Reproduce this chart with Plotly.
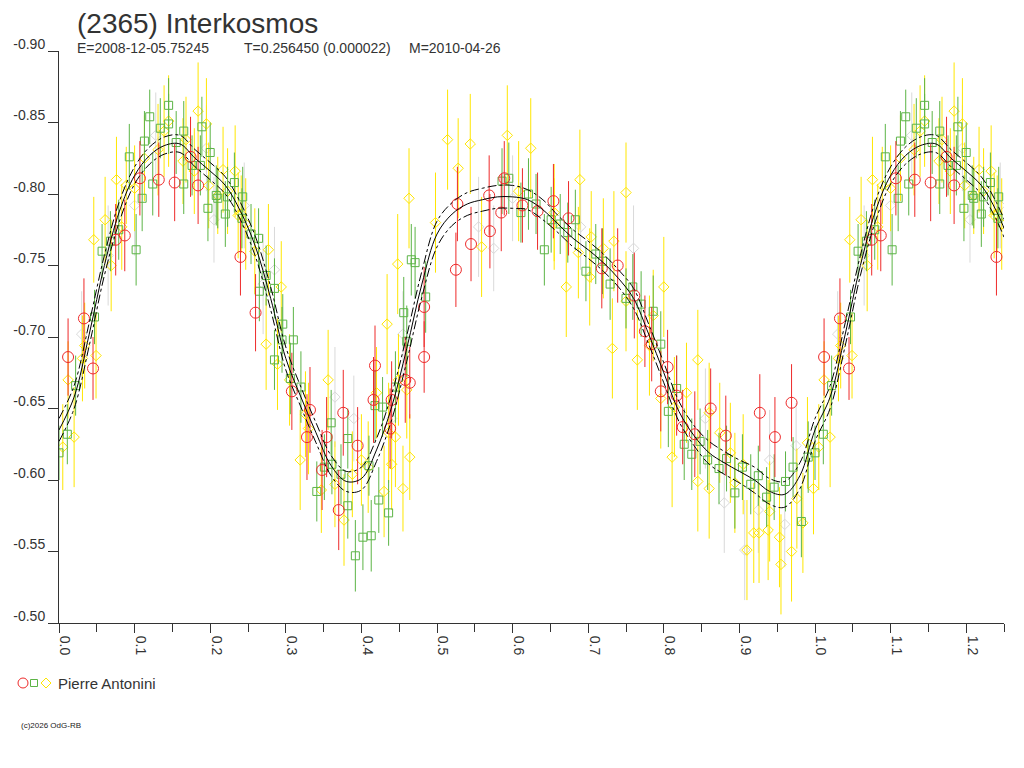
import plotly.graph_objects as go

# fitted curve, phase 0.00 .. 1.00 step 0.02, with its 1-sigma band
fit_phase = [i / 50 for i in range(51)]
fit_mag = [-0.635, -0.658, -0.702, -0.750, -0.788, -0.813, -0.827, -0.834, -0.835, -0.825,
           -0.816, -0.806, -0.788, -0.763, -0.727, -0.685, -0.658, -0.633, -0.610, -0.599,
           -0.601, -0.621, -0.651, -0.692, -0.737, -0.772, -0.786, -0.793, -0.796, -0.798,
           -0.798, -0.796, -0.789, -0.779, -0.769, -0.761, -0.752, -0.741, -0.727, -0.702,
           -0.675, -0.648, -0.631, -0.619, -0.612, -0.606, -0.600, -0.592, -0.590, -0.603,
           -0.635]
fit_sig = [0.008, 0.008, 0.008, 0.007, 0.007, 0.006, 0.006, 0.006, 0.006, 0.006,
           0.006, 0.006, 0.006, 0.007, 0.008, 0.008, 0.007, 0.007, 0.007, 0.007,
           0.008, 0.008, 0.009, 0.009, 0.009, 0.009, 0.008, 0.008, 0.008, 0.008,
           0.008, 0.007, 0.007, 0.006, 0.006, 0.006, 0.006, 0.006, 0.007, 0.007,
           0.007, 0.007, 0.007, 0.008, 0.008, 0.008, 0.009, 0.009, 0.009, 0.009,
           0.008]

# Pierre Antonini, session 1 (red circles)
red_phase = [0.012, 0.033, 0.045, 0.075, 0.087, 0.107, 0.132, 0.153, 0.174, 0.184,
             0.240, 0.260, 0.308, 0.332, 0.328, 0.354, 0.348, 0.376, 0.395, 0.370,
             0.418, 0.416, 0.440, 0.438, 0.458, 0.464, 0.483, 0.483, 0.525, 0.527,
             0.545, 0.570, 0.569, 0.585, 0.589, 0.613, 0.633, 0.654, 0.674, 0.718,
             0.739, 0.761, 0.775, 0.784, 0.805, 0.796, 0.817, 0.825, 0.841, 0.862,
             0.882, 0.927, 0.947, 0.969]
red_mag = [-0.686, -0.713, -0.678, -0.768, -0.771, -0.811, -0.810, -0.808, -0.826, -0.806,
           -0.756, -0.717, -0.662, -0.649, -0.630, -0.630, -0.607, -0.647, -0.624, -0.579,
           -0.680, -0.656, -0.656, -0.636, -0.670, -0.668, -0.686, -0.721, -0.747, -0.793,
           -0.765, -0.774, -0.799, -0.787, -0.811, -0.792, -0.788, -0.795, -0.783, -0.748,
           -0.750, -0.729, -0.704, -0.695, -0.679, -0.662, -0.659, -0.637, -0.632, -0.650,
           -0.631, -0.647, -0.630, -0.654]
red_err = [0.027, 0.028, 0.022, 0.025, 0.025, 0.026, 0.026, 0.027, 0.028, 0.027,
           0.027, 0.027, 0.027, 0.030, 0.030, 0.028, 0.028, 0.030, 0.027, 0.028,
           0.028, 0.030, 0.027, 0.028, 0.030, 0.025, 0.025, 0.028, 0.026, 0.026,
           0.026, 0.026, 0.028, 0.027, 0.026, 0.026, 0.027, 0.026, 0.026, 0.028,
           0.026, 0.030, 0.025, 0.026, 0.026, 0.028, 0.028, 0.026, 0.030, 0.028,
           0.028, 0.027, 0.028, 0.027]

# session 2 (green squares)
grn_phase = [0.000, 0.011, 0.022, 0.047, 0.057, 0.068, 0.079, 0.102, 0.093, 0.110,
             0.113, 0.120, 0.124, 0.134, 0.145, 0.145, 0.155, 0.165, 0.165, 0.176,
             0.187, 0.189, 0.197, 0.200, 0.208, 0.210, 0.220, 0.223, 0.232, 0.243,
             0.242, 0.254, 0.264, 0.274, 0.265, 0.285, 0.296, 0.295, 0.310, 0.285,
             0.306, 0.320, 0.360, 0.382, 0.351, 0.361, 0.373, 0.341, 0.382, 0.392,
             0.402, 0.413, 0.410, 0.423, 0.436, 0.418, 0.428, 0.445, 0.456, 0.460,
             0.466, 0.471, 0.485, 0.586, 0.595, 0.611, 0.621, 0.631, 0.642, 0.651,
             0.663, 0.673, 0.683, 0.697, 0.710, 0.719, 0.729, 0.750, 0.759, 0.770,
             0.786, 0.796, 0.817, 0.806, 0.827, 0.837, 0.848, 0.858, 0.873, 0.883,
             0.894, 0.904, 0.915, 0.925, 0.936, 0.946, 0.961, 0.971, 0.982, 0.991]
grn_mag = [-0.619, -0.632, -0.666, -0.714, -0.760, -0.767, -0.775, -0.761, -0.826, -0.797,
           -0.837, -0.854, -0.807, -0.846, -0.862, -0.849, -0.836, -0.844, -0.807, -0.820,
           -0.820, -0.847, -0.790, -0.829, -0.799, -0.797, -0.786, -0.798, -0.808, -0.798,
           -0.783, -0.772, -0.769, -0.743, -0.732, -0.734, -0.709, -0.698, -0.698, -0.684,
           -0.671, -0.665, -0.640, -0.629, -0.609, -0.611, -0.604, -0.592, -0.582, -0.547,
           -0.560, -0.561, -0.610, -0.586, -0.577, -0.652, -0.651, -0.665, -0.717, -0.697,
           -0.754, -0.752, -0.728, -0.809, -0.811, -0.787, -0.800, -0.793, -0.761, -0.782,
           -0.779, -0.773, -0.782, -0.746, -0.758, -0.753, -0.737, -0.727, -0.735, -0.723,
           -0.718, -0.695, -0.664, -0.648, -0.625, -0.618, -0.627, -0.614, -0.608, -0.615,
           -0.591, -0.609, -0.597, -0.603, -0.588, -0.595, -0.599, -0.609, -0.571, -0.616]
grn_err = [0.019, 0.021, 0.021, 0.019, 0.019, 0.021, 0.021, 0.025, 0.023, 0.023,
           0.021, 0.019, 0.022, 0.021, 0.019, 0.021, 0.022, 0.021, 0.021, 0.021,
           0.021, 0.021, 0.023, 0.021, 0.021, 0.021, 0.023, 0.021, 0.021, 0.021,
           0.021, 0.021, 0.021, 0.021, 0.021, 0.021, 0.021, 0.023, 0.023, 0.021,
           0.025, 0.025, 0.023, 0.021, 0.023, 0.021, 0.021, 0.021, 0.023, 0.025,
           0.023, 0.025, 0.021, 0.023, 0.023, 0.025, 0.021, 0.025, 0.025, 0.025,
           0.025, 0.025, 0.025, 0.023, 0.025, 0.021, 0.025, 0.021, 0.025, 0.023,
           0.021, 0.021, 0.021, 0.021, 0.021, 0.023, 0.025, 0.021, 0.023, 0.023,
           0.025, 0.023, 0.023, 0.025, 0.025, 0.025, 0.023, 0.021, 0.025, 0.023,
           0.025, 0.023, 0.021, 0.021, 0.021, 0.023, 0.021, 0.021, 0.025, 0.025]

# session 3 (yellow diamonds)
yel_phase = [0.005, 0.012, 0.020, 0.031, 0.034, 0.049, 0.046, 0.061, 0.069, 0.076,
             0.083, 0.089, 0.100, 0.113, 0.131, 0.139, 0.145, 0.164, 0.168, 0.179,
             0.184, 0.195, 0.198, 0.210, 0.217, 0.223, 0.233, 0.237, 0.241, 0.247,
             0.259, 0.277, 0.294, 0.274, 0.289, 0.305, 0.326, 0.330, 0.319, 0.356,
             0.347, 0.365, 0.377, 0.388, 0.400, 0.409, 0.420, 0.434, 0.430, 0.436,
             0.445, 0.440, 0.448, 0.449, 0.460, 0.464, 0.455, 0.463, 0.498, 0.514,
             0.528, 0.544, 0.559, 0.593, 0.624, 0.608, 0.655, 0.655, 0.689, 0.671,
             0.687, 0.704, 0.702, 0.720, 0.734, 0.750, 0.732, 0.750, 0.800, 0.765,
             0.781, 0.786, 0.796, 0.814, 0.830, 0.811, 0.845, 0.845, 0.860, 0.860,
             0.874, 0.888, 0.894, 0.905, 0.910, 0.919, 0.926, 0.938, 0.940, 0.953,
             0.955, 0.969, 0.976, 0.984, 0.990, 0.998]
yel_mag = [-0.623, -0.670, -0.630, -0.685, -0.694, -0.687, -0.768, -0.782, -0.750, -0.810,
           -0.777, -0.806, -0.804, -0.825, -0.831, -0.844, -0.851, -0.823, -0.838, -0.816,
           -0.858, -0.849, -0.806, -0.799, -0.817, -0.802, -0.816, -0.785, -0.786, -0.779,
           -0.760, -0.761, -0.735, -0.695, -0.681, -0.670, -0.646, -0.636, -0.614, -0.670,
           -0.593, -0.597, -0.572, -0.604, -0.614, -0.609, -0.661, -0.709, -0.592, -0.633,
           -0.630, -0.611, -0.751, -0.670, -0.663, -0.616, -0.594, -0.797, -0.780, -0.838,
           -0.818, -0.835, -0.763, -0.841, -0.832, -0.802, -0.787, -0.779, -0.810, -0.735,
           -0.759, -0.770, -0.742, -0.762, -0.767, -0.801, -0.692, -0.725, -0.735, -0.684,
           -0.694, -0.715, -0.657, -0.651, -0.661, -0.616, -0.684, -0.599, -0.647, -0.594,
           -0.633, -0.619, -0.598, -0.611, -0.551, -0.563, -0.563, -0.565, -0.578, -0.560,
           -0.541, -0.550, -0.587, -0.570, -0.626, -0.594]
yel_err = [0.030, 0.027, 0.035, 0.030, 0.030, 0.030, 0.030, 0.030, 0.032, 0.030,
           0.030, 0.027, 0.030, 0.030, 0.032, 0.032, 0.032, 0.030, 0.030, 0.030,
           0.034, 0.032, 0.030, 0.027, 0.030, 0.030, 0.032, 0.030, 0.027, 0.032,
           0.030, 0.032, 0.032, 0.032, 0.032, 0.032, 0.030, 0.032, 0.035, 0.035,
           0.030, 0.030, 0.032, 0.030, 0.032, 0.032, 0.032, 0.035, 0.032, 0.035,
           0.035, 0.032, 0.035, 0.032, 0.034, 0.030, 0.030, 0.035, 0.035, 0.035,
           0.035, 0.035, 0.035, 0.035, 0.035, 0.035, 0.034, 0.032, 0.035, 0.035,
           0.032, 0.032, 0.034, 0.035, 0.035, 0.035, 0.035, 0.035, 0.035, 0.035,
           0.035, 0.032, 0.035, 0.035, 0.035, 0.035, 0.035, 0.035, 0.035, 0.035,
           0.035, 0.035, 0.035, 0.035, 0.035, 0.035, 0.035, 0.035, 0.035, 0.035,
           0.035, 0.035, 0.035, 0.035, 0.032, 0.032]

# faint points (grey)
gry_phase = [0.030, 0.065, 0.100, 0.128, 0.195, 0.205, 0.245, 0.270, 0.285, 0.365,
             0.390, 0.440, 0.455, 0.555, 0.575, 0.600, 0.690, 0.760, 0.855, 0.880,
             0.907, 0.925, 0.940, 0.960, 0.975]
gry_mag = [-0.702, -0.757, -0.792, -0.841, -0.832, -0.782, -0.792, -0.737, -0.747, -0.658,
           -0.643, -0.643, -0.702, -0.777, -0.762, -0.797, -0.777, -0.762, -0.643, -0.584,
           -0.551, -0.579, -0.614, -0.569, -0.624]
gry_err = [0.030, 0.035, 0.035, 0.030, 0.030, 0.030, 0.030, 0.035, 0.030, 0.035,
           0.030, 0.035, 0.030, 0.035, 0.030, 0.030, 0.030, 0.030, 0.035, 0.035,
           0.035, 0.030, 0.035, 0.030, 0.030]

y_ticks = [-0.90, -0.85, -0.80, -0.75, -0.70, -0.65, -0.60, -0.55, -0.50]
y_labels = ["-0.90", "-0.85", "-0.80", "-0.75", "-0.70", "-0.65", "-0.60", "-0.55", "-0.50"]

RED = "#ee2a2a"
GREEN = "#5cb446"
YELLOW = "#ffe600"
GREY = "#d9d9d9"
TXT = "#333333"
FONT = "Liberation Sans, Arial, sans-serif"


def wrap(ph, mag, err, limit=0.25):
	# phases below `limit` are shown again after 1.0
	p2 = list(ph) + [p + 1 for p in ph if p < limit]
	m2 = list(mag) + [m for p, m in zip(ph, mag) if p < limit]
	e2 = list(err) + [e for p, e in zip(ph, err) if p < limit]
	return p2, m2, e2


def points(ph, mag, err, color, symbol, size):
	x, y, e = wrap(ph, mag, err)
	return go.Scatter(
		x=x, y=y, mode="markers", showlegend=False, cliponaxis=True,
		marker=dict(symbol=symbol, size=size, color=color, line=dict(color=color, width=1)),
		error_y=dict(type="data", array=e, color=color, thickness=1, width=0),
	)


fig = go.Figure()
fig.add_trace(points(gry_phase, gry_mag, gry_err, GREY, "diamond-open", 8))
fig.add_trace(points(yel_phase, yel_mag, yel_err, YELLOW, "diamond-open", 8))
fig.add_trace(points(grn_phase, grn_mag, grn_err, GREEN, "square-open", 8))
fig.add_trace(points(red_phase, red_mag, red_err, RED, "circle-open", 11))

# fitted curve and band, extended to 1.26
fx, fy, fs = wrap(fit_phase[:-1], fit_mag[:-1], fit_sig[:-1], limit=0.27)
order = sorted(range(len(fx)), key=lambda i: fx[i])
fx = [fx[i] for i in order]
fy = [fy[i] for i in order]
fs = [fs[i] for i in order]
fig.add_trace(go.Scatter(x=fx, y=[m - s for m, s in zip(fy, fs)], mode="lines", showlegend=False,
						 line=dict(color="black", width=1, dash="dashdot", shape="spline")))
fig.add_trace(go.Scatter(x=fx, y=[m + s for m, s in zip(fy, fs)], mode="lines", showlegend=False,
						 line=dict(color="black", width=1, dash="dashdot", shape="spline")))
fig.add_trace(go.Scatter(x=fx, y=fy, mode="lines", showlegend=False,
						 line=dict(color="black", width=1, shape="spline")))

# the page body has an 8px margin, so the figure is 8px smaller and margins shifted
fig.update_layout(
	width=1016, height=760,
	margin=dict(l=51, r=20, t=43, b=145),
	paper_bgcolor="white", plot_bgcolor="white",
	font=dict(family=FONT, color=TXT, size=14),
	xaxis=dict(
		range=[0, 1.25], tick0=0, dtick=0.1, tickformat=".1f", tickangle=90,
		showgrid=False, zeroline=False, showline=True, linecolor=TXT, linewidth=1,
		ticks="outside", ticklen=9, tickcolor=TXT, ticklabelshift=6,
		tickfont=dict(size=14, color=TXT),
		minor=dict(dtick=0.05, ticks="outside", ticklen=8, tickcolor=TXT, showgrid=False),
		automargin=False,
	),
	yaxis=dict(
		range=[-0.5, -0.9], tickvals=y_ticks, ticktext=y_labels,
		showgrid=False, zeroline=False, showline=True, linecolor=TXT, linewidth=1,
		ticks="outside", ticklen=10, tickcolor=TXT, ticklabelshift=7,
		tickfont=dict(size=14, color=TXT), automargin=False,
	),
)


def px(x):
	return (x - 59) / 945


def py(y):
	return (623 - y) / 572


fig.add_annotation(text="(2365) Interkosmos", x=px(75), y=py(24), xref="paper", yref="paper",
				   xanchor="left", yanchor="middle", showarrow=False, font=dict(size=28, color=TXT))
for txt, x0 in [("E=2008-12-05.75245", 75), ("T=0.256450 (0.000022)", 242), ("M=2010-04-26", 407)]:
	fig.add_annotation(text=txt, x=px(x0), y=py(48), xref="paper", yref="paper",
					   xanchor="left", yanchor="middle", showarrow=False, font=dict(size=14, color=TXT))

# legend row
fig.add_shape(type="circle", xref="paper", yref="paper", xsizemode="pixel", ysizemode="pixel",
			  xanchor=px(23), yanchor=py(683), x0=-5, x1=5, y0=-5, y1=5, line=dict(color=RED, width=1))
fig.add_shape(type="rect", xref="paper", yref="paper", xsizemode="pixel", ysizemode="pixel",
			  xanchor=px(34), yanchor=py(683), x0=-3.5, x1=3.5, y0=-3.5, y1=3.5, line=dict(color=GREEN, width=1))
fig.add_shape(type="path", xref="paper", yref="paper", xsizemode="pixel", ysizemode="pixel",
			  xanchor=px(46), yanchor=py(683), path="M 0,-5 L 5,0 L 0,5 L -5,0 Z", line=dict(color=YELLOW, width=1))
fig.add_annotation(text="Pierre Antonini", x=px(56), y=py(683), xref="paper", yref="paper",
				   xanchor="left", yanchor="middle", showarrow=False, font=dict(size=15, color=TXT))
fig.add_annotation(text="(c)2026 OdG-RB", x=px(19), y=py(725), xref="paper", yref="paper",
				   xanchor="left", yanchor="middle", showarrow=False, font=dict(size=8, color="#222"))

fig.write_html("out.html")
